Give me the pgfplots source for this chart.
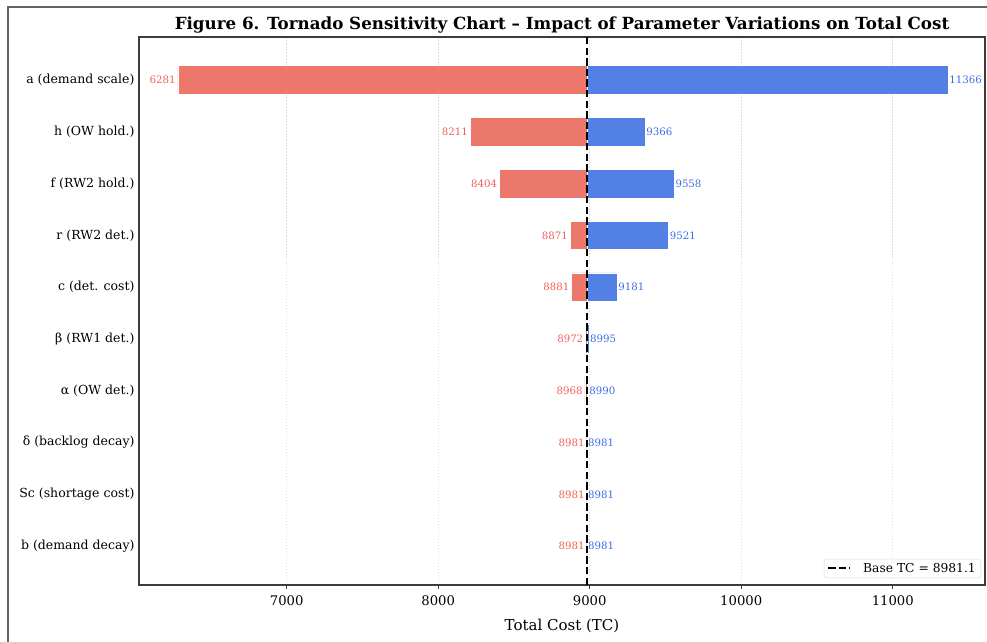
\documentclass[border=0pt]{standalone}
\usepackage{fontspec}
\setmainfont{DejaVu Serif}
\usepackage{pgfplots}
\pgfplotsset{compat=1.18}
\usepackage{pgfplotstable}
\definecolor{barred}{RGB}{236,120,108}
\definecolor{barblue}{RGB}{82,128,228}
\definecolor{txtred}{RGB}{240,95,88}
\definecolor{txtblue}{RGB}{58,108,228}
\definecolor{spine}{RGB}{60,60,60}

% base total cost = 8981.1 ; bars are drawn relative to it
\pgfplotstableread{
idx low high
9 6281 11366
8 8211 9366
7 8404 9558
6 8871 9521
5 8881 9181
4 8972 8995
3 8968 8990
2 8981.1 8981
1 8981.1 8981
0 8981.1 8981
}\tcdata

\begin{document}
\begin{tikzpicture}[x=1pt,y=1pt]
\useasboundingbox (0,0) rectangle (987,641);
\draw[spine!80, line width=1.2pt] (8,-10) -- (8,634) -- (1000,634);
\begin{axis}[
  at={(139pt,56pt)}, anchor=south west,
  width=846pt, height=548pt, scale only axis,
  xmin=-2956.1, xmax=2627.9, ymin=-0.75, ymax=9.83,
  axis line style={spine, line width=1.1pt},
  scaled x ticks=false,
  /pgf/number format/assume math mode=true,
  xtick={-1981.1,-981.1,18.9,1018.9,2018.9},
  xticklabels={7000,8000,9000,10000,11000},
  ytick={0,...,9},
  yticklabels={b (demand decay),Sc (shortage cost),δ (backlog decay),α (OW det.),β (RW1 det.),c (det. cost),r (RW2 det.),f (RW2 hold.),h (OW hold.),a (demand scale)},
  tick align=outside, xtick pos=bottom, ytick pos=left,
  major tick length=4pt, ytick style={draw=none},
  tick style={spine, line width=1pt},
  xticklabel style={font=\fontsize{13.2}{15}\selectfont, yshift=-3pt},
  yticklabel style={font=\fontsize{12.5}{14}\selectfont, xshift=3pt},
  xmajorgrids, major grid style={gray!25, line width=0.6pt, dash pattern=on 1.5pt off 1.5pt},
  title={\textbf{Figure 6. Tornado Sensitivity Chart – Impact of Parameter Variations on Total Cost}},
  title style={font=\fontsize{16.7}{19}\selectfont, at={(0.5,1)}, anchor=base, yshift=1pt},
  xlabel={Total Cost (TC)},
  xlabel style={font=\fontsize{15}{17}\selectfont, at={(axis description cs:0.5,0)}, anchor=base, yshift=-45pt},
  legend style={at={(1,0)}, anchor=south east, xshift=-4pt, yshift=7pt, draw=gray!30, rounded corners=2pt, font=\fontsize{12.3}{14}\selectfont, inner xsep=3pt, inner ysep=2pt},
  legend cell align=left,
]
% low side: from base to low value
\addplot[xbar, bar shift=0pt, bar width=28.5pt, fill=barred, draw=white, line width=0.5pt, forget plot,
  point meta=explicit,
  nodes near coords={\pgfmathprintnumber[fixed,precision=0,1000 sep={},assume math mode=true]{\pgfplotspointmeta}},
  nodes near coords align={anchor=east},
  every node near coord/.append style={text=txtred, font=\fontsize{10.2}{12}\selectfont, inner sep=2pt}]
  table[x expr=\thisrow{low}-8981.1, y=idx, meta=low] {\tcdata};
% high side: from base to high value
\addplot[xbar, bar shift=0pt, bar width=28.5pt, fill=barblue, draw=white, line width=0.5pt, forget plot,
  point meta=explicit,
  nodes near coords={\pgfmathprintnumber[fixed,precision=0,1000 sep={},assume math mode=true]{\pgfplotspointmeta}},
  nodes near coords align={anchor=west},
  every node near coord/.append style={text=txtblue, font=\fontsize{10.2}{12}\selectfont, inner sep=1pt}]
  table[x expr=\thisrow{high}-8981.1, y=idx, meta=high] {\tcdata};
\addplot[black, line width=2pt, dash pattern=on 7.4pt off 3.2pt, mark=none,
  legend image code/.code={\draw[black, line width=2pt, dash pattern=on 7.4pt off 3.2pt] (0pt,0pt) -- (22pt,0pt); \path (32pt,0pt);}]
  coordinates {(0,-0.75) (0,9.83)};
\addlegendentry{Base TC = 8981.1}
\end{axis}
\end{tikzpicture}
\end{document}
